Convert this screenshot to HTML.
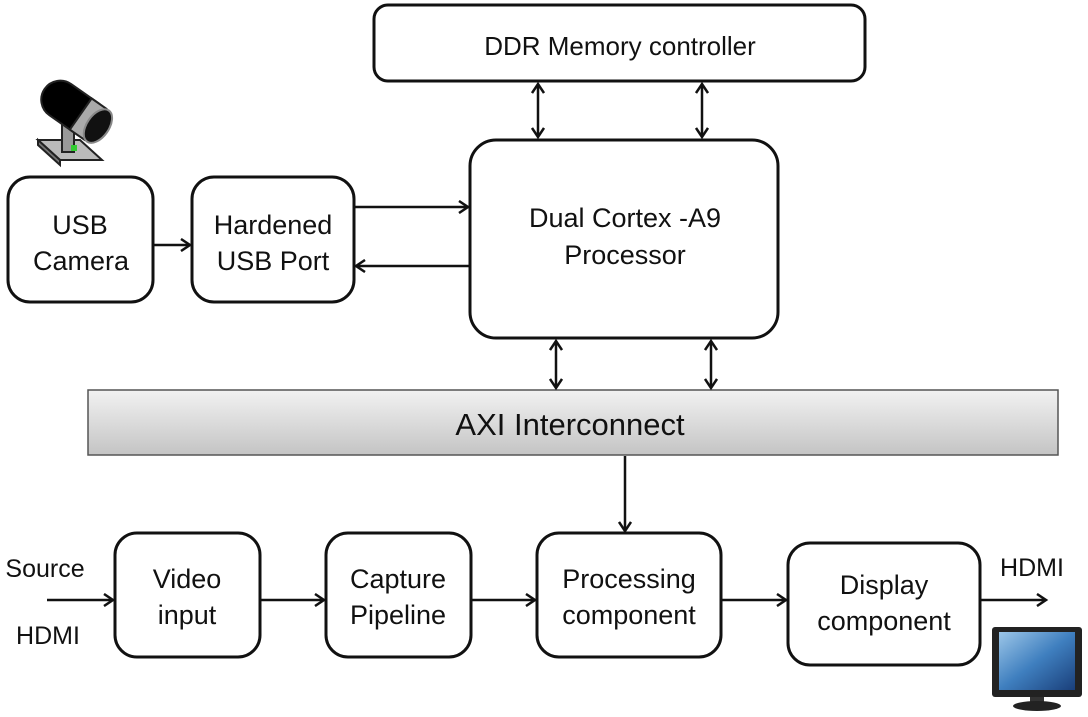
<!DOCTYPE html>
<html><head><meta charset="utf-8"><style>
html,body{margin:0;padding:0;background:#fff;width:1088px;height:717px;overflow:hidden}
text{font-family:"Liberation Sans",sans-serif;fill:#111;text-anchor:middle}
</style></head><body>
<svg width="1088" height="717" viewBox="0 0 1088 717" xmlns="http://www.w3.org/2000/svg">
<defs>
<marker id="a" markerWidth="14" markerHeight="14" refX="11" refY="7" orient="auto-start-reverse" markerUnits="userSpaceOnUse">
<path d="M2,1 L11,7 L2,13" fill="none" stroke="#111" stroke-width="2.5"/>
</marker>
<linearGradient id="g" x1="0" y1="0" x2="0" y2="1">
<stop offset="0" stop-color="#f2f2f2"/><stop offset="1" stop-color="#c4c4c4"/>
</linearGradient>
<linearGradient id="sc" x1="0" y1="0" x2="1" y2="1">
<stop offset="0" stop-color="#9cc6e8"/><stop offset="0.5" stop-color="#3f7fbf"/><stop offset="1" stop-color="#1a3f7a"/>
</linearGradient>
</defs>
<g fill="#fff" stroke="#111" stroke-width="3">
<rect x="374" y="5" width="491" height="76" rx="14"/>
<rect x="470" y="140" width="308" height="198" rx="26"/>
<rect x="8" y="177" width="145" height="125" rx="22"/>
<rect x="192" y="177" width="162" height="125" rx="22"/>
<rect x="115" y="533" width="145" height="124" rx="22"/>
<rect x="326" y="533" width="145" height="124" rx="22"/>
<rect x="537" y="533" width="184" height="124" rx="22"/>
<rect x="788" y="543" width="192" height="122" rx="22"/>
</g>
<rect x="88" y="390" width="970" height="65" fill="url(#g)" stroke="#555" stroke-width="1.5"/>
<g stroke="#111" stroke-width="2.5" fill="none">
<line x1="538" y1="84" x2="538" y2="137" marker-start="url(#a)" marker-end="url(#a)"/>
<line x1="702" y1="84" x2="702" y2="137" marker-start="url(#a)" marker-end="url(#a)"/>
<line x1="556" y1="341" x2="556" y2="388" marker-start="url(#a)" marker-end="url(#a)"/>
<line x1="711" y1="341" x2="711" y2="388" marker-start="url(#a)" marker-end="url(#a)"/>
<line x1="625" y1="456" x2="625" y2="531" marker-end="url(#a)"/>
<line x1="153" y1="245" x2="190" y2="245" marker-end="url(#a)"/>
<line x1="354" y1="207" x2="468" y2="207" marker-end="url(#a)"/>
<line x1="470" y1="266" x2="356" y2="266" marker-end="url(#a)"/>
<line x1="47" y1="600" x2="113" y2="600" marker-end="url(#a)"/>
<line x1="260" y1="600" x2="324" y2="600" marker-end="url(#a)"/>
<line x1="471" y1="600" x2="535" y2="600" marker-end="url(#a)"/>
<line x1="721" y1="600" x2="786" y2="600" marker-end="url(#a)"/>
<line x1="980" y1="600" x2="1046" y2="600" marker-end="url(#a)"/>
</g>
<g font-size="27">
<text x="620" y="55" font-size="26">DDR Memory controller</text>
<text x="625" y="227">Dual Cortex -A9</text>
<text x="625" y="264">Processor</text>
<text x="80" y="234">USB</text>
<text x="81" y="270">Camera</text>
<text x="273" y="234">Hardened</text>
<text x="273" y="270">USB Port</text>
<text x="187" y="588">Video</text>
<text x="187" y="624">input</text>
<text x="398" y="588">Capture</text>
<text x="398" y="624">Pipeline</text>
<text x="629" y="588">Processing</text>
<text x="629" y="624">component</text>
<text x="884" y="594">Display</text>
<text x="884" y="630">component</text>
<text x="45" y="577" font-size="25">Source</text>
<text x="48" y="644" font-size="25">HDMI</text>
<text x="1032" y="576" font-size="25">HDMI</text>
</g>
<text x="570" y="435" font-size="31">AXI Interconnect</text>
<!-- camera -->
<g stroke="#222" stroke-width="2">
<polygon points="38,140 80,140 102,160 60,160" fill="#bbb"/>
<polygon points="38,140 60,160 60,165 38,145" fill="#777"/>
<rect x="62" y="110" width="12" height="42" fill="#999"/>
<g transform="rotate(35 75 110)">
<rect x="38" y="91" width="72" height="38" rx="19" fill="#000"/>
<rect x="82" y="91" width="18" height="38" fill="#aaa"/>
<ellipse cx="103" cy="110" rx="11" ry="19" fill="#111" stroke="#888"/>
</g>
</g>
<rect x="71" y="145" width="6" height="6" fill="#3c3"/>
<!-- monitor -->
<rect x="992" y="627" width="90" height="70" rx="3" fill="#222"/>
<rect x="999" y="632" width="76" height="58" fill="url(#sc)"/>
<rect x="1030" y="697" width="14" height="6" fill="#333"/>
<ellipse cx="1037" cy="706" rx="24" ry="5" fill="#222"/>
</svg>
</body></html>
